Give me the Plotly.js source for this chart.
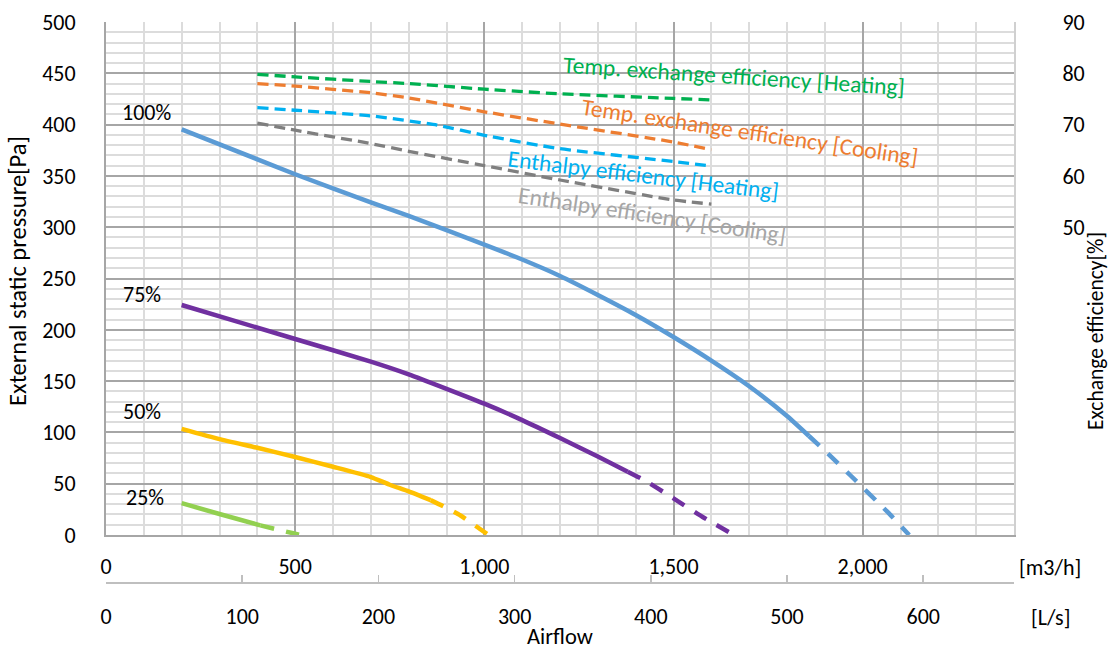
<!DOCTYPE html>
<html>
<head>
<meta charset="utf-8">
<script src="https://cdn.plot.ly/plotly-3.0.1.min.js"></script>
<style>html,body{margin:0;padding:0;background:#fff;}#chart{width:1110px;height:650px;}</style>
</head>
<body>
<div id="chart"></div>
<script>
// ---- Pressure curves (left axis, Pa) vs airflow (m3/h) ----
const flow100Solid = [200, 500, 700, 800, 1000, 1100, 1200, 1300, 1400, 1500, 1600, 1700, 1800, 1858];
const pa100Solid   = [395.4, 351.6, 324.3, 311, 283, 268.5, 252.5, 234, 214.5, 193, 170, 145, 116, 96.5];
const flow100Dash  = [1858, 1905, 1968, 2065, 2123];
const pa100Dash    = [96.5, 80.5, 58, 22.7, 0];

const flow75Solid = [200, 500, 700, 800, 1000, 1100, 1200, 1300, 1379];
const pa75Solid   = [224.2, 191, 169, 156.6, 128, 112, 94.5, 76.5, 61.7];
const flow75Dash  = [1379, 1422, 1500, 1576, 1660];
const pa75Dash    = [61.7, 53.6, 35.7, 17.8, 0];

const flow50Solid = [200, 300, 400, 500, 600, 700, 750, 800, 858];
const pa50Solid   = [103.5, 93.5, 85, 76, 66.5, 56.5, 49, 42.5, 34];
const flow50Dash  = [858, 897, 937, 1011];
const pa50Dash    = [34, 27, 19, 0];

const flow25Solid = [200, 300, 408];
const pa25Solid   = [31, 20.5, 9.4];
const flow25Dash  = [408, 492, 515];
const pa25Dash    = [9.4, 1.9, 0];

// ---- Exchange efficiency curves (right axis, %) ----
const flowTempHeat = [400, 500, 700, 800, 1000, 1200, 1500, 1600];
const effTempHeat  = [79.8, 79.3, 78.4, 78.0, 76.9, 76.0, 75.1, 74.8];
const flowTempCool = [400, 500, 700, 800, 1000, 1200, 1500, 1600];
const effTempCool  = [78.0, 77.5, 76.2, 75.2, 72.5, 70.1, 66.6, 65.1];
const flowEnthHeat = [400, 500, 700, 875, 1000, 1200, 1500, 1600];
const effEnthHeat  = [73.3, 72.8, 71.7, 69.9, 67.9, 65.3, 62.8, 61.9];
const flowEnthCool = [400, 500, 700, 800, 1000, 1200, 1500, 1600];
const effEnthCool  = [70.3, 68.9, 66.3, 64.8, 62.0, 59.2, 55.3, 54.5];

// ---- Labels ----
const pctLabels = ['100%', '75%', '50%', '25%'];
const effLabels = ['Temp. exchange efficiency [Heating]', 'Temp. exchange efficiency [Cooling]',
                   'Enthalpy efficiency [Heating]', 'Enthalpy efficiency [Cooling]'];
const m3hTicks = [0, 500, 1000, 1500, 2000];
const lsTicks = [0, 100, 200, 300, 400, 500, 600];
const effTicks = [50, 60, 70, 80, 90];

const FONT = 'Carlito, Lato, "Open Sans", sans-serif';
const C100 = '#5b9bd5', C75 = '#7030a0', C50 = '#ffc000', C25 = '#92d050';
const CTH = '#00b050', CTC = '#ed7d31', CEH = '#00b0f0', CEC = '#7f7f7f';

function pLine(x, y, color, dashed) {
  return {x: x, y: y, type: 'scatter', mode: 'lines', xaxis: 'x', yaxis: 'y', showlegend: false, hoverinfo: 'skip',
    line: {color: color, width: 4.5, dash: dashed ? '14px,12px' : 'solid', shape: 'spline', smoothing: 0.5}};
}
function eLine(x, y, color) {
  return {x: x, y: y, type: 'scatter', mode: 'lines', xaxis: 'x', yaxis: 'y2', showlegend: false, hoverinfo: 'skip',
    line: {color: color, width: 3.3, dash: '11px,6px', shape: 'spline', smoothing: 0.5}};
}

const traces = [
  pLine(flow100Solid, pa100Solid, C100, false), pLine(flow100Dash, pa100Dash, C100, true),
  pLine(flow75Solid, pa75Solid, C75, false), pLine(flow75Dash, pa75Dash, C75, true),
  pLine(flow50Solid, pa50Solid, C50, false), pLine(flow50Dash, pa50Dash, C50, true),
  pLine(flow25Solid, pa25Solid, C25, false), pLine(flow25Dash, pa25Dash, C25, true),
  eLine(flowTempHeat, effTempHeat, CTH), eLine(flowTempCool, effTempCool, CTC),
  eLine(flowEnthHeat, effEnthHeat, CEH), eLine(flowEnthCool, effEnthCool, CEC),
  // invisible trace to activate the L/s axis
  {x: [0], y: [null], type: 'scatter', mode: 'lines', xaxis: 'x2', yaxis: 'y', showlegend: false, hoverinfo: 'skip'}
];

const pctPos = [[107, 412], [96, 234], [94, 120], [102, 37]];
const effPos = [[1660, 447, 3.8, CTH], [1702, 393, 8.6, CTC], [1420, 351, 7.0, CEH], [1442, 312, 8.6, '#a6a6a6']];

const annotations = [];
pctLabels.forEach((t, i) => annotations.push({
  text: t, x: pctPos[i][0], y: pctPos[i][1], xref: 'x', yref: 'y', showarrow: false,
  font: {family: FONT, size: 22, color: '#000'}, xanchor: 'center', yanchor: 'middle'}));
effLabels.forEach((t, i) => annotations.push({
  text: t, x: effPos[i][0], y: effPos[i][1], xref: 'x', yref: 'y', showarrow: false, textangle: effPos[i][2],
  font: {family: FONT, size: 23.5, color: effPos[i][3]}, xanchor: 'center', yanchor: 'middle'}));
annotations.push({text: '[m3/h]', x: 1050, y: 567, xref: 'paper', yref: 'paper', showarrow: false,
  font: {family: FONT, size: 22, color: '#000'}});
annotations.push({text: '[L/s]', x: 1050, y: 617, xref: 'paper', yref: 'paper', showarrow: false,
  font: {family: FONT, size: 22, color: '#000'}});
annotations.push({text: 'Exchange efficiency[%]', x: 1096, y: 331, xref: 'paper', yref: 'paper', showarrow: false,
  textangle: -90, font: {family: FONT, size: 21.5, color: '#000'}});
annotations.push({text: 'External static pressure[Pa]', x: 18, y: 271, xref: 'paper', yref: 'paper', showarrow: false,
  textangle: -90, font: {family: FONT, size: 24.5, color: '#000'}});

// convert pixel positions for paper-referenced annotations
const L = 106, R = 96, T = 22, B = 67, W = 1110, H = 650;
annotations.forEach(a => {
  if (a.xref === 'paper') {
    a.x = (a.x - L) / (W - L - R);
    a.y = 1 - (a.y - T) / (H - T - B);
    a.xanchor = 'center'; a.yanchor = 'middle';
  }
});

const layout = {
  width: W, height: H,
  margin: {l: L, r: R, t: T, b: B},
  paper_bgcolor: '#fff', plot_bgcolor: '#fff',
  font: {family: FONT, size: 22, color: '#000'},
  showlegend: false,
  xaxis: {
    range: [0, 2400], tickmode: 'array', tickvals: m3hTicks, tickformat: ',d',
    showgrid: true, gridcolor: '#a6a6a6', gridwidth: 2,
    minor: {dtick: 100, tick0: 0, showgrid: true, gridcolor: '#dcdcdc', gridwidth: 2},
    zeroline: false, showline: true, linecolor: '#a6a6a6', linewidth: 2, mirror: false,
    ticks: '', ticklabelstandoff: 11, tickfont: {family: FONT, size: 22, color: '#000'},
    anchor: 'y', fixedrange: true
  },
  xaxis2: {
    range: [0, 2400 / 3.6], overlaying: 'x', anchor: 'free', position: 0, side: 'bottom',
    tickmode: 'array', tickvals: lsTicks, showgrid: false, zeroline: false,
    showline: true, linecolor: '#bfbfbf', linewidth: 2,
    ticks: 'inside', ticklen: 7, tickcolor: '#bfbfbf', tickwidth: 1.5,
    ticklabelstandoff: 14, tickfont: {family: FONT, size: 22, color: '#000'},
    title: {text: 'Airflow', standoff: 7, font: {family: FONT, size: 22.5, color: '#000'}},
    fixedrange: true
  },
  yaxis: {
    range: [0, 500], domain: [(583 - 535) / (H - T - B), 1], dtick: 50, tick0: 0,
    showgrid: true, gridcolor: '#a6a6a6', gridwidth: 2,
    minor: {dtick: 10, tick0: 0, showgrid: true, gridcolor: '#dcdcdc', gridwidth: 2},
    zeroline: false, showline: true, linecolor: '#a6a6a6', linewidth: 2,
    ticks: '', ticklabelstandoff: 24, tickfont: {family: FONT, size: 22, color: '#000'},
    anchor: 'x', fixedrange: true
  },
  yaxis2: {
    range: [-10, 90], overlaying: 'y', side: 'right', anchor: 'x',
    tickmode: 'array', tickvals: effTicks, showgrid: false, zeroline: false, showline: true,
    linecolor: '#d0d0d0', linewidth: 2,
    ticks: '', ticklabelstandoff: 42, tickfont: {family: FONT, size: 22, color: '#000'},
    fixedrange: true
  },
  annotations: annotations
};

Plotly.newPlot('chart', traces, layout, {displayModeBar: false, staticPlot: true});
</script>
</body>
</html>
